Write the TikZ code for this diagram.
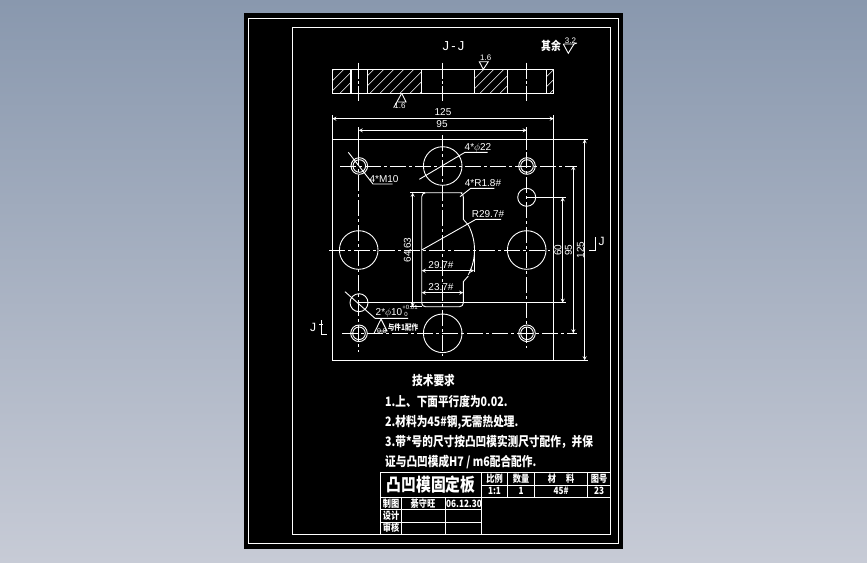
\documentclass[tikz,border=0pt]{standalone}
\usepackage{fontspec}
\setmainfont{Liberation Sans}
\newfontfamily\cjk[FakeStretch=0.82]{Noto Sans CJK SC}
\definecolor{bgtop}{RGB}{137,152,174}
\definecolor{bgbot}{RGB}{199,203,214}
\tikzset{
	line/.style={draw=white, line width=0.9pt},
	cline/.style={draw=white, line width=0.8pt, dash pattern=on 16pt off 3pt on 3pt off 3pt},
	dim/.style={draw=white, line width=0.8pt, <->, >=stealth},
	lab/.style={text=white, font=\fontsize{10}{10}\selectfont, inner sep=0pt},
	zh/.style={text=white, font=\cjk\bfseries\fontsize{13}{13}\selectfont, inner sep=0pt, anchor=west},
	tb/.style={text=white, font=\cjk\bfseries\fontsize{10}{10}\selectfont, inner sep=0pt},
}
\begin{document}
\begin{tikzpicture}[x=1pt, y=-1pt]
		\useasboundingbox (0,0) rectangle (867,562);
		%背景
		\shade[top color=bgtop, bottom color=bgbot] (0,0) rectangle (867,562);
		\fill[black] (244,13) rectangle (622.5,549);
		\draw[line] (248.3,18.3) rectangle (618.7,543.3);
		\draw[line] (292.5,27.8) rectangle (610.4,534);
		%J-J
		\begin{scope}
			\clip (332.3,69.3) rectangle (350.3,93.3) (367.3,69.3) rectangle (421.3,93.3)
				(474.3,69.3) rectangle (507.3,93.3) (546.3,69.3) rectangle (553.7,93.3);
			\foreach \x in {300,310,...,560}
				\draw[draw=white, line width=0.6pt] (\x,93.3)--(\x+24,69.3);
		\end{scope}
		\draw[line] (332.3,69.3) rectangle (553.7,93.3);
		\foreach \x in {350.3,351.6,367.3,421.3,474.3,507.3,546.3}
			\draw[line] (\x,69.3)--(\x,93.3);
		\foreach \x in {358.3,442.3,526.3}
			\draw[line, dash pattern=on 16pt off 2pt on 3pt off 2pt] (\x,62.7)--(\x,101);
		\node[lab, font=\fontsize{13}{13}\selectfont] (jjtitle) at (453.5,46) {J\,-\,J};
		\node[tb, font=\cjk\bfseries\fontsize{12}{12}\selectfont] (rest) at (551,45.5) {其余};
		\node[lab, font=\fontsize{8}{8}\selectfont] (r32) at (570.5,40.5) {3.2};
		\draw[line] (563.3,44)--(574,44)--(568.3,53.3)--(563.3,44);
		\draw[line] (574,44)--(577,43);
		\node[lab, font=\fontsize{8}{8}\selectfont] (r16a) at (485.7,57.3) {1.6};
		\draw[line] (479.3,61.7)--(488.3,61.7)--(483.3,69.3)--cycle;
		\node[lab, font=\fontsize{8}{8}\selectfont] (r16b) at (400,105.5) {1.6};
		\draw[line] (401.7,93.3)--(393.7,107.7);
		\draw[line] (401.7,93.3)--(406,102)--(397.5,102);
		%尺寸
		\foreach \x in {332.3,553.7}
			\draw[line] (\x,115)--(\x,139.3);
		\foreach \x in {358.7,526.7}
			\draw[line] (\x,127)--(\x,150);
		\draw[dim] (332.3,118.7)--(553.7,118.7);
		\draw[dim] (358.7,130.3)--(526.7,130.3);
		\node[lab] (w125) at (443,112.5) {125};
		\node[lab] (w95) at (442,124.5) {95};
		%板
		\draw[line] (332.5,139.3) rectangle (553.7,360.3);
		\draw[line] (553.7,139.3)--(587.7,139.3);
		\draw[line] (553.7,360.3)--(588,360.3);
		\draw[dim] (584.7,139.3)--(584.7,360.3);
		\draw[dim] (573.3,166)--(573.3,333.3);
		\draw[dim] (562.7,197.3)--(562.7,302.7);
		\node[lab, rotate=90] (h125) at (580.5,250) {125};
		\node[lab, rotate=90] (h95) at (568.5,250) {95};
		\node[lab, rotate=90] (h60) at (558,250) {60};
		%孔
		\foreach \x/\y in {442.7/166,442.7/333.3,358.7/250,526.7/250}
			\draw[line] (\x,\y) circle (19.3);
		\foreach \x/\y in {359.3/166,527/166,359/333.3,527/333.3}{
			\draw[line] (\x,\y) circle (8.3);
			\draw[line] (\x,\y) circle (6.3);
		}
		\foreach \x/\y in {526.7/197.3,359/302.7}
			\draw[line] (\x,\y) circle (9);
		%中心线
		\draw[cline] (340,166)--(576.7,166);
		\draw[cline] (329,250)--(550,250);
		\draw[cline] (342,333.3)--(576.7,333.3);
		\draw[cline] (358.7,150)--(358.7,352);
		\draw[cline] (442.7,135)--(442.7,356);
		\draw[cline] (526.7,127)--(526.7,348);
		\draw[line] (526.7,197.3)--(565.7,197.3);
		\draw[line] (359,302.7)--(565.7,302.7);
		%型腔
		\draw[line] (425,192.7)--(462.3,192.7) (421.7,196.7) arc[start angle=180, end angle=270, radius=4];
		\draw[line] (421.7,196.7)--(421.7,303) arc[start angle=180, end angle=90, radius=3.7]--(459.6,306.7) arc[start angle=90, end angle=0, radius=3.7]--(463.3,281.7)--(468.3,276);
		\draw[line] (468.3,225) arc[start angle=-28, end angle=28, radius=53];
		\draw[line] (468.3,225)--(463.3,219.3)--(463.3,197) arc[start angle=0, end angle=-60, radius=4.5];
		\draw[line] (410,192.7)--(425,192.7);
		\draw[line] (410,306.7)--(421.7,306.7);
		\draw[dim] (412.7,192.7)--(412.7,306.7);
		\node[lab, rotate=90] (h646) at (407.5,250) {64.63};
		\draw[dim] (421.7,270.7)--(474,270.7);
		\draw[line] (474,252)--(474,272);
		\draw[dim] (421.7,292.7)--(463.3,292.7);
		\node[lab] (w297) at (441,265) {29.7\#};
		\node[lab] (w237) at (441,287.5) {23.7\#};
		%引线
		\draw[line] (421.7,250)--(476,219.3)--(501,219.3);
		\node[lab] (rbig) at (488,214) {R29.7\#};
		\draw[line] (460,196.7)--(470.7,188.3)--(494.3,188.3);
		\node[lab] (rsmall) at (483,183) {4*R1.8\#};
		\draw[line] (419.3,179.3)--(465,152.3)--(487.7,152.3);
		\node[lab] (dbig) at (478,147.5) {4*$\phi$22};
		\draw[line] (348.3,152.3)--(373,184)--(392.7,184);
		\node[lab] (mten) at (384,179.5) {4*M10};
		\draw[line] (345,291.7)--(375,318.3)--(408,318.3);
		\node[lab] (dten) at (389,313) {2*$\phi$10};
		\node[lab, font=\fontsize{6}{6}\selectfont] (tolu) at (410,307.5) {+0.01};
		\node[lab, font=\fontsize{6}{6}\selectfont] (told) at (406,314.5) {0};
		\draw[line] (381,319)--(374,333.5) (381,319)--(387,331)--(378,331);
		\node[lab, font=\fontsize{7}{7}\selectfont] (r08) at (382,331) {0.8};
		\node[tb, font=\cjk\bfseries\fontsize{8}{8}\selectfont] (match) at (403,327) {与件1配作};
		%剖切
		\draw[line] (589.3,250)--(595.7,250)--(595.7,236.7);
		\node[lab, font=\fontsize{12}{12}\selectfont] (jr) at (601.7,241) {J};
		\draw[line] (321.7,320)--(321.7,334)--(326.7,334);
		\draw[line] (319.3,324)--(323.3,324);
		\node[lab, font=\fontsize{12}{12}\selectfont] (jl) at (313,327) {J};
		%技术要求
		\node[zh] (tech) at (412,381) {技术要求};
		\node[zh] (req1) at (385,401.7) {1.上、下面平行度为0.02.};
		\node[zh] (req2) at (385,422.3) {2.材料为45\#钢,无需热处理.};
		\node[zh] (req3) at (385,442.3) {3.带*号的尺寸按凸凹模实测尺寸配作，并保};
		\node[zh] (req4) at (385,462.3) {证与凸凹模成H7 / m6配合配作.};
		%标题栏
		\draw[line] (380.7,472.3) rectangle (610.4,534);
		\draw[line] (380.7,497.3)--(610.4,497.3);
		\draw[line] (481.7,485)--(610.4,485);
		\draw[line] (380.7,509.3)--(481.7,509.3);
		\draw[line] (380.7,522)--(481.7,522);
		\draw[line] (481.7,472.3)--(481.7,534);
		\foreach \x in {401,445.7}
			\draw[line] (\x,497.3)--(\x,534);
		\foreach \x in {507.7,534.3,587.3}
			\draw[line] (\x,472.3)--(\x,497.3);
		\node[tb, font=\cjk\bfseries\fontsize{18}{18}\selectfont] (title) at (431,485) {凸凹模固定板};
		\foreach \x/\y/\t/\n in {494.5/478.6/比例/a, 521/478.6/数量/b, 561/478.6/材\quad 料/c, 599/478.6/图号/d,
			494.5/491/1:1/e, 521/491/1/f, 561/491/45\#/g, 599/491/23/h,
			391/503.5/制图/i, 423/503.5/綦守旺/j, 464/503.5/06.12.30/k, 391/515.7/设计/l, 391/528/审核/m}
			\node[tb] (cell\n) at (\x,\y) {\t};
	\end{tikzpicture}
\end{document}
